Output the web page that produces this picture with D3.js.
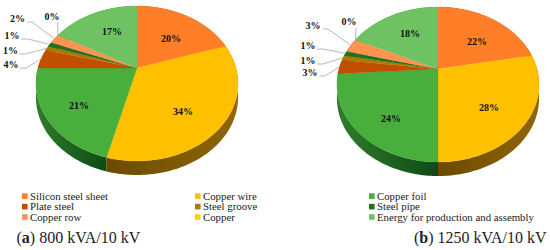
<!DOCTYPE html>
<html>
<head>
<meta charset="utf-8">
<script src="https://cdn.jsdelivr.net/npm/d3@7"></script>
<style>
  html, body { margin: 0; padding: 0; background: #fff; }
  svg { display: block; font-family: "Liberation Serif", serif; }
</style>
</head>
<body>
<div id="chart"></div>
<script>
const categories = ['Silicon steel sheet', 'Copper wire', 'Copper foil', 'Plate steel', 'Steel groove', 'Steel pipe', 'Copper row', 'Copper', 'Energy for production and assembly'];
const values800 = [20, 34, 21, 4, 1, 1, 2, 0, 17];
const values1250 = [22, 28, 24, 3, 1, 1, 3, 0, 18];

const colors = ['#fe7f27', '#ffc000', '#48ae3c', '#c04f00', '#ad7a00', '#226f22', '#ff9350', '#ffd000', '#6fc261'];
// side wall gradient, left end and right end
const sideLeft = ['#8a4510', '#6b4a00', '#2f7d2b', '#6e3000', '#6a4a00', '#144a14', '#8a5020', '#7a6400', '#3f7a38'];
const sideRight = ['#8a4510', '#8f6608', '#0f4a15', '#6e3000', '#6a4a00', '#144a14', '#8a5020', '#7a6400', '#3f7a38'];

const width = 550;
const height = 250;

// slanted disc: true angle -> screen offset from the apex
const RX = 99;
const RY = 74.4;
const TILT = 0.2;
const DEPTH = 14;

const project = (a) => {
  const u = Math.sin(a);
  const v = Math.cos(a);
  const d = 1 + TILT * v;
  return [(RX * u) / d, (-RY * v) / d];
};

const arcPoints = (a0, a1) => {
  const n = Math.max(2, Math.ceil((a1 - a0) / 0.02));
  return d3.range(n + 1).map((i) => project(a0 + ((a1 - a0) * i) / n));
};

const svg = d3.select('#chart').append('svg').attr('width', width).attr('height', height);
const defs = svg.append('defs');
const line = d3.line();

colors.forEach((c, i) => {
  const grad = defs.append('linearGradient').attr('id', `side-${i}`);
  grad.append('stop').attr('offset', '0%').attr('stop-color', sideLeft[i]);
  grad.append('stop').attr('offset', '100%').attr('stop-color', sideRight[i]);
});

const drawPie = ({ values, cx, cy, labelPos }) => {
  const slices = d3.pie().sort(null).value((d) => d)(values);
  const g = svg.append('g').attr('transform', `translate(${cx}, ${cy})`);

  // side wall first, the top surface covers its back half
  slices.forEach((s, i) => {
    if (s.endAngle === s.startAngle) return;
    const top = arcPoints(s.startAngle, s.endAngle);
    const bottom = top.map(([x, y]) => [x, y + DEPTH]).reverse();
    g.append('path').attr('d', line(top.concat(bottom)) + 'Z').attr('fill', `url(#side-${i})`);
  });

  slices.forEach((s, i) => {
    if (s.endAngle === s.startAngle) return;
    const pts = [[0, 0]].concat(arcPoints(s.startAngle, s.endAngle));
    g.append('path').attr('d', line(pts) + 'Z').attr('fill', colors[i]).attr('stroke', colors[i]).attr('stroke-width', 0.3);
  });

  // labels: big slices inside, small ones out on grey leaders
  slices.forEach((s, i) => {
    const pos = labelPos[i];
    if (pos.lead) {
      const [ex, ey] = project((s.startAngle + s.endAngle) / 2);
      svg.append('path')
        .attr('d', line(pos.lead.concat([[ex + cx, ey + cy]])))
        .attr('fill', 'none')
        .attr('stroke', '#a6a6a6')
        .attr('stroke-width', 0.8);
    }
    svg.append('text')
      .attr('x', pos.x)
      .attr('y', pos.y + 3.4)
      .attr('text-anchor', 'middle')
      .style('font-size', '10px')
      .style('font-weight', 'bold')
      .attr('fill', '#111')
      .text(`${values[i]}%`);
  });
};

drawPie({
  values: values800,
  cx: 137,
  cy: 68,
  labelPos: [
    { x: 171, y: 39 },
    { x: 183, y: 112 },
    { x: 79, y: 106 },
    { x: 11, y: 65, lead: [[20, 68], [26, 68]] },
    { x: 10.5, y: 51, lead: [[19, 54], [25, 54]] },
    { x: 12, y: 36, lead: [[21, 39], [28, 39]] },
    { x: 17.5, y: 19, lead: [[27, 22], [32, 22]] },
    { x: 52, y: 17, lead: [[57.7, 22]] },
    { x: 112, y: 32 },
  ],
});

drawPie({
  values: values1250,
  cx: 438,
  cy: 69,
  labelPos: [
    { x: 477, y: 42 },
    { x: 489, y: 108 },
    { x: 391, y: 119 },
    { x: 310, y: 73, lead: [[320, 76], [325, 76]] },
    { x: 308, y: 61, lead: [[317, 64], [323, 64]] },
    { x: 308, y: 46, lead: [[317, 49], [323, 49]] },
    { x: 313, y: 26, lead: [[323, 29], [328, 29]] },
    { x: 349, y: 22, lead: [[356, 28]] },
    { x: 410, y: 34 },
  ],
});

// legend, three columns
const legendX = [22, 195, 369];
const legendY = [193.3, 203.8, 214.2];
const legendColumns = [[0, 3, 6], [1, 4, 7], [2, 5, 8]];
legendColumns.forEach((col, c) => {
  col.forEach((idx, r) => {
    svg.append('rect').attr('x', legendX[c]).attr('y', legendY[r]).attr('width', 5.6).attr('height', 5.6).attr('fill', colors[idx]);
    svg.append('text')
      .attr('x', legendX[c] + 8)
      .attr('y', legendY[r] + 6.4)
      .style('font-size', '10.8px')
      .attr('fill', '#222')
      .text(categories[idx]);
  });
});

const captions = [
  { x: 16.5, tag: 'a', text: ' 800 kVA/10 kV' },
  { x: 414, tag: 'b', text: ' 1250 kVA/10 kV' },
];
captions.forEach((c) => {
  const t = svg.append('text').attr('x', c.x).attr('y', 243).style('font-size', '16px').attr('fill', '#222');
  t.append('tspan').text('(');
  t.append('tspan').style('font-weight', 'bold').text(c.tag);
  t.append('tspan').text(`)${c.text}`);
});
</script>
</body>
</html>
